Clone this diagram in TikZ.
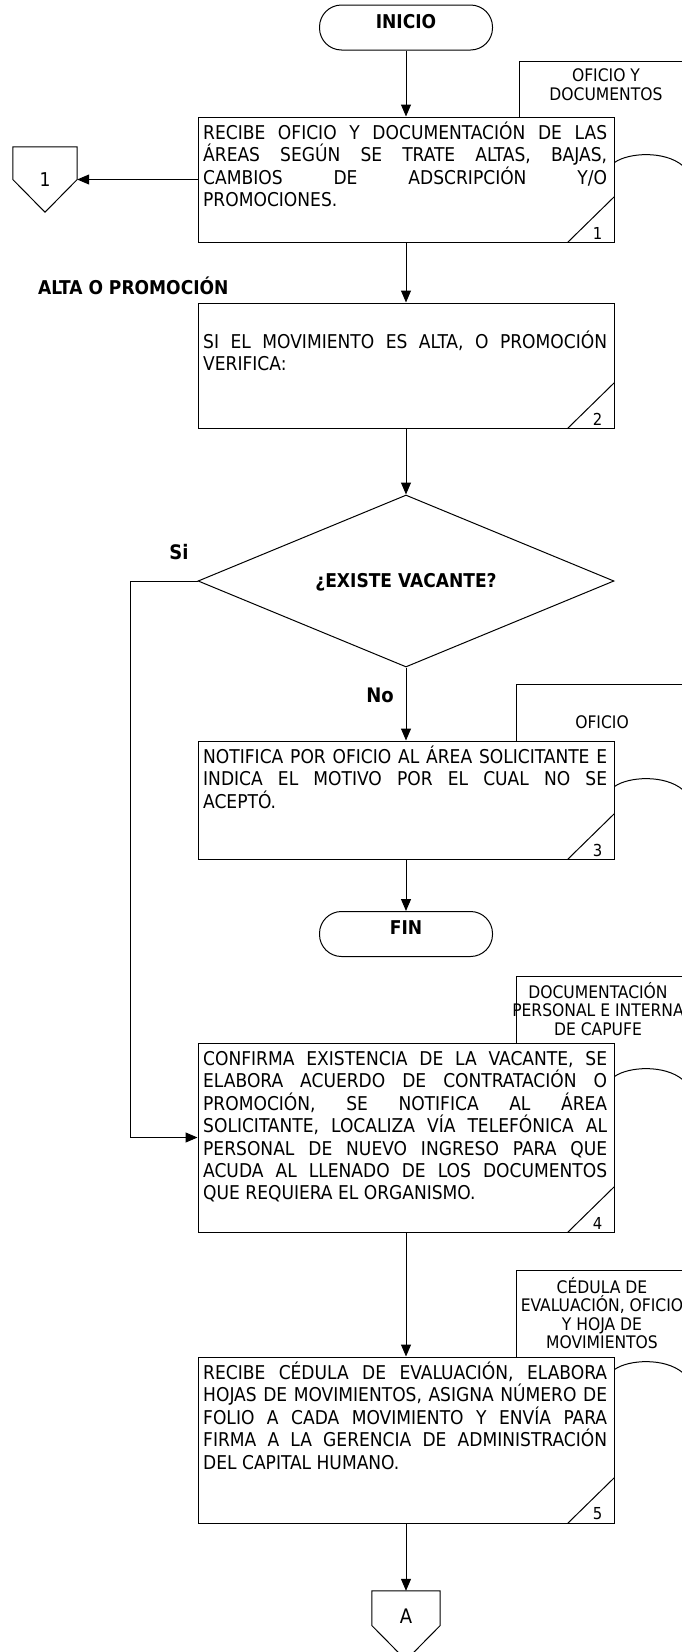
\documentclass[tikz,border=0pt]{standalone}
\usepackage{fontspec}
\setmainfont{DejaVu Sans Condensed}
\usetikzlibrary{arrows.meta,shapes.geometric,calc}

\newcommand\bodyfont{\fontsize{19}{22.4}\selectfont}
\newcommand\docfont{\fontsize{17.3}{18.5}\selectfont}
\newcommand\boldfont{\fontsize{19}{22}\selectfont\bfseries}
\newcommand\numfont{\fontsize{16.5}{18}\selectfont}
% one justified line of a step text (interword glue stretched to the full width)
\newcommand\justline[1]{{\spaceskip=0pt\xspaceskip=0pt\makebox[404pt][s]{#1}}\\}

\tikzset{
  ln/.style={line width=1pt},
  arr/.style={line width=1pt, -{Triangle[length=12pt,width=10pt]}},
  procbox/.style={draw, line width=1pt, fill=white, rectangle, inner sep=0pt,
                  minimum width=416pt},
  termbox/.style={draw, line width=1pt, rectangle, rounded corners=22pt,
                  minimum width=173pt, minimum height=45pt, inner sep=0pt},
  decbox/.style={draw, line width=1pt, diamond, inner sep=0pt,
                 minimum width=416pt, minimum height=172pt},
  conn/.style={inner sep=0pt, font=\bodyfont},
  steptext/.style={anchor=base west, inner sep=0pt, text width=404pt, align=justify, font=\bodyfont},
  doctext/.style={align=center, inner sep=0pt, font=\docfont},
  boldtext/.style={inner sep=0pt, font=\boldfont},
  numtext/.style={inner sep=0pt, font=\numfont},
}

\begin{document}
\begin{tikzpicture}[x=1pt,y=-1pt]
\useasboundingbox (0,0) rectangle (682,1652);
\clip (0,0) rectangle (682,1652);

% ---------- document symbols (their lower part lies behind the steps) ----------
\draw[ln] (519,140) -- (519,61) -- (720,61);
\draw[ln] (516,760) -- (516,684) -- (720,684);
\draw[ln] (516,1060) -- (516,976) -- (720,976);
\draw[ln] (516,1380) -- (516,1270) -- (720,1270);
\node[doctext] (doc1) at (606,84.5) {OFICIO Y\\DOCUMENTOS};
\node[doctext] (doc3) at (602,722) {OFICIO};
\node[doctext] (doc4) at (598,1009) {DOCUMENTACIÓN\\PERSONAL E INTERNA\\DE CAPUFE};
\node[doctext] (doc5) at (602,1313) {CÉDULA DE\\EVALUACIÓN, OFICIO\\Y HOJA DE\\MOVIMIENTOS};

% ---------- terminators ----------
\node[termbox] (ini) at (406,27.5) {};
\node[boldtext] (initxt) at (406,22) {INICIO};
\node[termbox] (fin) at (406,934) {};
\node[boldtext] (fintxt) at (406,928) {FIN};

% ---------- process steps ----------
\node[procbox, minimum height=125pt] (b1) at (406,179.5) {};
\node[steptext] (t1) at (203,139.5) {%
\justline{RECIBE OFICIO Y DOCUMENTACIÓN DE LAS}
\justline{ÁREAS SEGÚN SE TRATE ALTAS, BAJAS,}
\justline{CAMBIOS DE ADSCRIPCIÓN Y/O}
PROMOCIONES.};

\node[procbox, minimum height=125pt] (b2) at (406,365.5) {};
\node[steptext] (t2) at (203,348.5) {%
\justline{SI EL MOVIMIENTO ES ALTA, O PROMOCIÓN}
VERIFICA:};

\node[decbox] (dec) at (406,581) {};
\node[boldtext] (dectxt) at (406,582) {¿EXISTE VACANTE?};

\node[procbox, minimum height=118pt] (b3) at (406,800) {};
\node[steptext] (t3) at (203,763.5) {%
\justline{NOTIFICA POR OFICIO AL ÁREA SOLICITANTE E}
\justline{INDICA EL MOTIVO POR EL CUAL NO SE}
ACEPTÓ.};

\node[procbox, minimum height=189pt] (b4) at (406,1137.5) {};
\node[steptext] (t4) at (203,1065.5) {%
\justline{CONFIRMA EXISTENCIA DE LA VACANTE, SE}
\justline{ELABORA ACUERDO DE CONTRATACIÓN O}
\justline{PROMOCIÓN, SE NOTIFICA AL ÁREA}
\justline{SOLICITANTE, LOCALIZA VÍA TELEFÓNICA AL}
\justline{PERSONAL DE NUEVO INGRESO PARA QUE}
\justline{ACUDA AL LLENADO DE LOS DOCUMENTOS}
QUE REQUIERA EL ORGANISMO.};

\node[procbox, minimum height=166pt] (b5) at (406,1440) {};
\node[steptext] (t5) at (203,1379.5) {%
\justline{RECIBE CÉDULA DE EVALUACIÓN, ELABORA}
\justline{HOJAS DE MOVIMIENTOS, ASIGNA NÚMERO DE}
\justline{FOLIO A CADA MOVIMIENTO Y ENVÍA PARA}
\justline{FIRMA A LA GERENCIA DE ADMINISTRACIÓN}
DEL CAPITAL HUMANO.};

% ---------- step numbers in the lower right corners ----------
\foreach \b/\n in {b1/1,b2/2,b3/3,b4/4,b5/5}{
  \draw[ln] ([xshift=-47pt]\b.south east) -- ([yshift=46pt]\b.south east);
  \node[numtext] (num\n) at ([xshift=-17pt,yshift=9.5pt]\b.south east) {\n};
}

% ---------- wavy lower edges of the documents, beside the steps ----------
\foreach \b/\d in {b1/46,b3/46,b4/34,b5/13}{
  \draw[ln] ($(\b.north east)+(0,\d)$) .. controls +(14,-10) and +(-18,-15) .. ++(68,3);
}

% ---------- off-page connectors ----------
\node[conn, minimum width=64pt, minimum height=65pt] (c1) at (45,179.5) {1};
\draw[ln] (c1.north west) -- (c1.north east) -- (c1.east) -- (c1.south) -- (c1.west) -- cycle;
\node[conn, minimum width=68pt, minimum height=69pt] (cA) at (406,1625.5) {};
\node[conn, font=\fontsize{20}{22}\selectfont] (cAtxt) at (406,1616) {A};
\draw[ln] (cA.north west) -- (cA.north east) -- (cA.east) -- (cA.south) -- (cA.west) -- cycle;

% ---------- labels ----------
\node[boldtext, anchor=west] (alta) at (38,286) {ALTA O PROMOCIÓN};
\node[boldtext, font=\fontsize{20}{22}\selectfont\bfseries] (si) at (179,552) {Si};
\node[boldtext, font=\fontsize{20}{22}\selectfont\bfseries] (no) at (380,695) {No};

% ---------- flow ----------
\draw[arr] (ini) -- (b1);
\draw[arr] (b1.west) -- (c1.east);
\draw[arr] (b1) -- (b2);
\draw[arr] (b2) -- (dec);
\draw[arr] (dec.south) -- (b3.north);
\draw[arr] (b3) -- (fin);
\draw[arr] (dec.west) -- ++(-67,0) |- (b4.west);
\draw[arr] (b4) -- (b5);
\draw[arr] (b5.south) -- (cA.north);
\end{tikzpicture}
\end{document}
